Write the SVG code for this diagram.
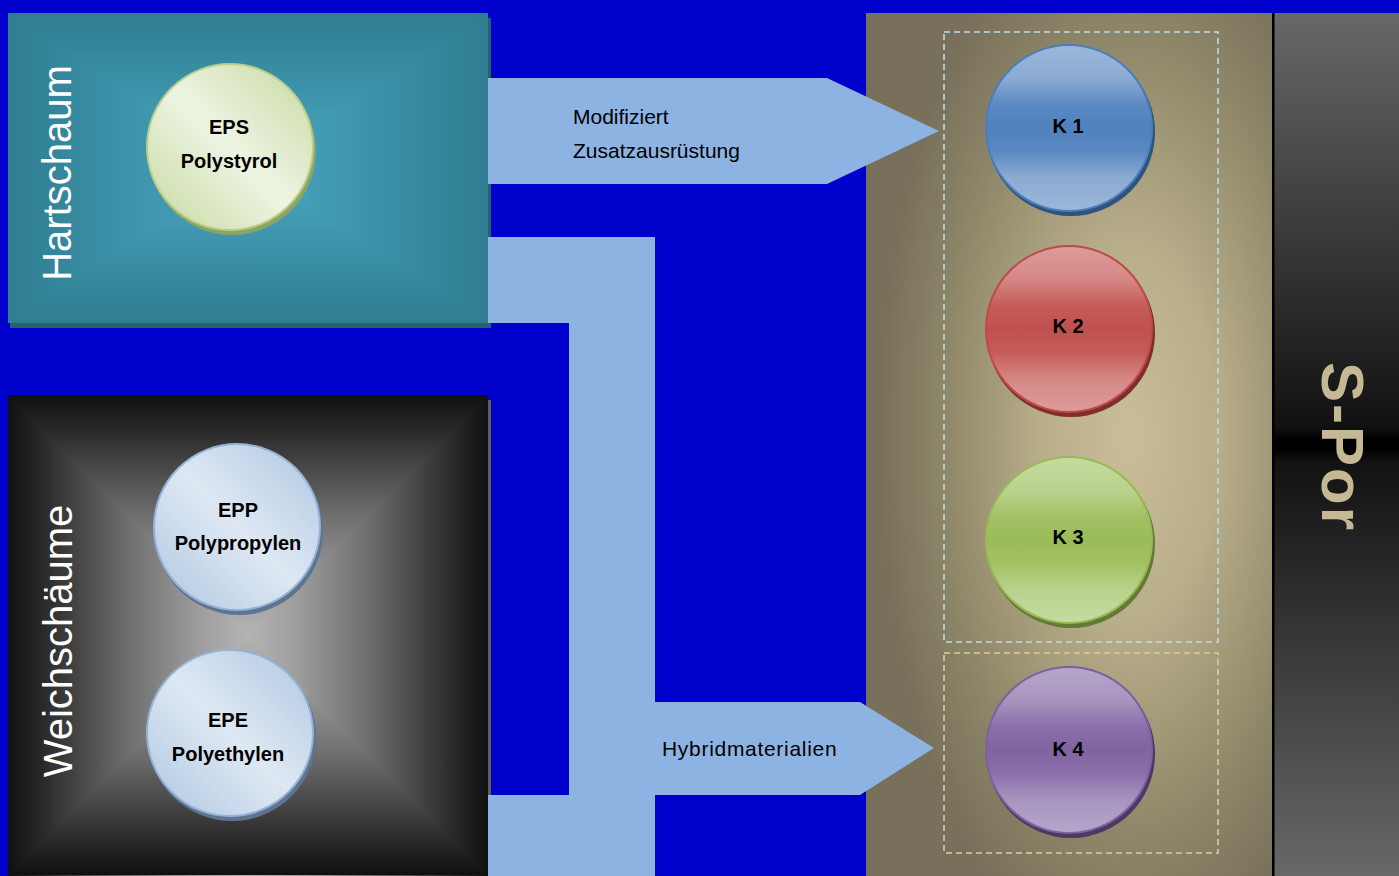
<svg xmlns="http://www.w3.org/2000/svg" width="1399" height="876" viewBox="0 0 1399 876">
<style>
.lbl{font-family:"Liberation Sans",Arial,sans-serif;font-size:20px;font-weight:bold;fill:#000;text-anchor:middle}
.side{font-family:"Liberation Sans",Arial,sans-serif;font-size:40px;fill:#fff;text-anchor:middle}
.arrtxt{font-family:"Liberation Sans",Arial,sans-serif;font-size:21px;fill:#000}
.conn{fill:#8DB3E2}
.dash1{fill:none;stroke:#B9DDE6;stroke-width:1.6;stroke-dasharray:6 4}
.dash2{fill:none;stroke:#D8CDA3;stroke-width:1.6;stroke-dasharray:6 4}
</style>
<defs>
<linearGradient id="hT" gradientUnits="userSpaceOnUse" x1="0" y1="13" x2="0" y2="168"><stop offset="0" stop-color="#2F7D90"/><stop offset="1" stop-color="#4AA8C4"/></linearGradient>
<linearGradient id="hB" gradientUnits="userSpaceOnUse" x1="0" y1="323" x2="0" y2="168"><stop offset="0" stop-color="#2F7D90"/><stop offset="1" stop-color="#4AA8C4"/></linearGradient>
<linearGradient id="hL" gradientUnits="userSpaceOnUse" x1="8" y1="0" x2="248" y2="0"><stop offset="0" stop-color="#2F7D90"/><stop offset="1" stop-color="#4AA8C4"/></linearGradient>
<linearGradient id="hR" gradientUnits="userSpaceOnUse" x1="488" y1="0" x2="248" y2="0"><stop offset="0" stop-color="#2F7D90"/><stop offset="1" stop-color="#4AA8C4"/></linearGradient>
<linearGradient id="wT" gradientUnits="userSpaceOnUse" x1="0" y1="395" x2="0" y2="635"><stop offset="0" stop-color="#101010"/><stop offset="0.15" stop-color="#2A2A2A"/><stop offset="0.5" stop-color="#6E6E6E"/><stop offset="0.8" stop-color="#9E9E9E"/><stop offset="1" stop-color="#B3B3B3"/></linearGradient>
<linearGradient id="wB" gradientUnits="userSpaceOnUse" x1="0" y1="875" x2="0" y2="635"><stop offset="0" stop-color="#101010"/><stop offset="0.15" stop-color="#2A2A2A"/><stop offset="0.5" stop-color="#6E6E6E"/><stop offset="0.8" stop-color="#9E9E9E"/><stop offset="1" stop-color="#B3B3B3"/></linearGradient>
<linearGradient id="wL" gradientUnits="userSpaceOnUse" x1="8" y1="0" x2="248" y2="0"><stop offset="0" stop-color="#101010"/><stop offset="0.15" stop-color="#2A2A2A"/><stop offset="0.5" stop-color="#6E6E6E"/><stop offset="0.8" stop-color="#9E9E9E"/><stop offset="1" stop-color="#B3B3B3"/></linearGradient>
<linearGradient id="wR" gradientUnits="userSpaceOnUse" x1="488" y1="0" x2="248" y2="0"><stop offset="0" stop-color="#101010"/><stop offset="0.15" stop-color="#2A2A2A"/><stop offset="0.5" stop-color="#6E6E6E"/><stop offset="0.8" stop-color="#9E9E9E"/><stop offset="1" stop-color="#B3B3B3"/></linearGradient>
<radialGradient id="tan" cx="0.65" cy="0.49" r="0.62"><stop offset="0" stop-color="#C9BE98"/><stop offset="0.35" stop-color="#B8AE8A"/><stop offset="0.75" stop-color="#8E8668"/><stop offset="1" stop-color="#78705A"/></radialGradient>
<linearGradient id="spor" x1="0" y1="0" x2="0" y2="1"><stop offset="0" stop-color="#686868"/><stop offset="0.48" stop-color="#111"/><stop offset="0.495" stop-color="#000"/><stop offset="0.505" stop-color="#000"/><stop offset="0.52" stop-color="#121212"/><stop offset="1" stop-color="#686868"/></linearGradient>
<linearGradient id="gEPS" x1="1" y1="0" x2="0" y2="1"><stop offset="0" stop-color="#C6D99F"/><stop offset="0.5" stop-color="#EEF4E3"/><stop offset="1" stop-color="#C6D99F"/></linearGradient>
<linearGradient id="gEP" x1="1" y1="0" x2="0" y2="1"><stop offset="0" stop-color="#AFC6E2"/><stop offset="0.5" stop-color="#DEE8F3"/><stop offset="1" stop-color="#AFC6E2"/></linearGradient>
<linearGradient id="gK1" x1="0" y1="0" x2="0" y2="1"><stop offset="0" stop-color="#9BB7DA"/><stop offset="0.2" stop-color="#8CABD3"/><stop offset="0.36" stop-color="#5B89C2"/><stop offset="0.5" stop-color="#4F81BD"/><stop offset="0.64" stop-color="#5B89C2"/><stop offset="0.8" stop-color="#8CABD3"/><stop offset="1" stop-color="#9BB7DA"/></linearGradient>
<linearGradient id="gK2" x1="0" y1="0" x2="0" y2="1"><stop offset="0" stop-color="#DC9C9A"/><stop offset="0.2" stop-color="#D58886"/><stop offset="0.36" stop-color="#C55C59"/><stop offset="0.5" stop-color="#C0504D"/><stop offset="0.64" stop-color="#C55C59"/><stop offset="0.8" stop-color="#D58886"/><stop offset="1" stop-color="#DC9C9A"/></linearGradient>
<linearGradient id="gK3" x1="0" y1="0" x2="0" y2="1"><stop offset="0" stop-color="#C6DAA0"/><stop offset="0.2" stop-color="#BAD28D"/><stop offset="0.36" stop-color="#A3C164"/><stop offset="0.5" stop-color="#9BBB59"/><stop offset="0.64" stop-color="#A3C164"/><stop offset="0.8" stop-color="#BAD28D"/><stop offset="1" stop-color="#C6DAA0"/></linearGradient>
<linearGradient id="gK4" x1="0" y1="0" x2="0" y2="1"><stop offset="0" stop-color="#B6A6CB"/><stop offset="0.2" stop-color="#A795BF"/><stop offset="0.36" stop-color="#8A6FAA"/><stop offset="0.5" stop-color="#8064A2"/><stop offset="0.64" stop-color="#8A6FAA"/><stop offset="0.8" stop-color="#A795BF"/><stop offset="1" stop-color="#B6A6CB"/></linearGradient>
</defs>

<rect x="0" y="0" width="1399" height="876" fill="#0000CC"/>

<g id="panel-k">
<rect x="866" y="13" width="406" height="863" fill="url(#tan)"/>
<rect x="944" y="32" width="274" height="610" class="dash1"/>
<rect x="944" y="653" width="274" height="200" class="dash2"/>
</g>

<g id="spor-panel">
<rect x="1272" y="13" width="127" height="863" fill="url(#spor)"/>
<rect x="1272" y="13" width="2.5" height="863" fill="#000"/>
<text transform="translate(1322,447) rotate(90)" x="0" y="0" text-anchor="middle" font-family="'Liberation Sans',Arial,sans-serif" font-size="60" font-weight="bold" letter-spacing="2" fill="#C4B994">S-Por</text>
</g>

<g id="hartschaum">
<rect x="10" y="18" width="481" height="310" fill="#26606C"/>
<rect x="8" y="13" width="241" height="310" fill="url(#hL)"/>
<rect x="247" y="13" width="241" height="310" fill="url(#hR)"/>
<polygon points="8,13 488,13 248,168" fill="url(#hT)"/>
<polygon points="8,323 488,323 248,168" fill="url(#hB)"/>
<text class="side" transform="translate(71,173) rotate(-90)">Hartschaum</text>
</g>

<g id="weichschaeume">
<rect x="10" y="400" width="481" height="480" fill="#5E5E5E"/>
<rect x="8" y="395" width="241" height="481" fill="url(#wL)"/>
<rect x="247" y="395" width="241" height="481" fill="url(#wR)"/>
<polygon points="8,395 488,395 248,635" fill="url(#wT)"/>
<polygon points="8,875 488,875 248,635" fill="url(#wB)"/>
<text class="side" transform="translate(72,641) rotate(-90)">Weichschäume</text>
</g>

<g id="connectors">
<polygon class="conn" points="488,78 827,78 939,131 827,184 488,184"/>
<path class="conn" d="M488,237 H655 V702 H860 L934,748 L860,795 H655 V876 H488 V795 H569 V323 H488 Z"/>
<text class="arrtxt" x="573" y="124">Modifiziert</text>
<text class="arrtxt" x="573" y="158">Zusatzausrüstung</text>
<text class="arrtxt" x="662" y="756" letter-spacing="0.7">Hybridmaterialien</text>
</g>

<g id="eps">
<circle cx="232" cy="151" r="84" fill="#8DA563"/>
<circle cx="230" cy="147" r="83" fill="url(#gEPS)" stroke="#B7CF8A" stroke-width="2"/>
<text class="lbl" x="229" y="134">EPS</text>
<text class="lbl" x="229" y="168">Polystyrol</text>
</g>
<g id="epp">
<circle cx="239" cy="531" r="84" fill="#5F7491"/>
<circle cx="237" cy="527" r="83" fill="url(#gEP)" stroke="#95B3D7" stroke-width="2"/>
<text class="lbl" x="238" y="517">EPP</text>
<text class="lbl" x="238" y="550">Polypropylen</text>
</g>
<g id="epe">
<circle cx="232" cy="737" r="84" fill="#5F7491"/>
<circle cx="230" cy="733" r="83" fill="url(#gEP)" stroke="#95B3D7" stroke-width="2"/>
<text class="lbl" x="228" y="727">EPE</text>
<text class="lbl" x="228" y="761">Polyethylen</text>
</g>
<g id="k1">
<circle cx="1071" cy="132" r="84" fill="#30527E"/>
<circle cx="1069" cy="128" r="83" fill="url(#gK1)" stroke="#4A7EBB" stroke-width="2"/>
<text class="lbl" x="1068" y="133">K 1</text>
</g>
<g id="k2">
<circle cx="1071" cy="333" r="84" fill="#7E2E2C"/>
<circle cx="1069" cy="329" r="83" fill="url(#gK2)" stroke="#BE4B48" stroke-width="2"/>
<text class="lbl" x="1068" y="333">K 2</text>
</g>
<g id="k3">
<circle cx="1071" cy="544" r="84" fill="#627A35"/>
<circle cx="1069" cy="540" r="83" fill="url(#gK3)" stroke="#98B954" stroke-width="2"/>
<text class="lbl" x="1068" y="544">K 3</text>
</g>
<g id="k4">
<circle cx="1071" cy="754" r="84" fill="#4A3A63"/>
<circle cx="1069" cy="750" r="83" fill="url(#gK4)" stroke="#7D60A0" stroke-width="2"/>
<text class="lbl" x="1068" y="756">K 4</text>
</g>
</svg>
